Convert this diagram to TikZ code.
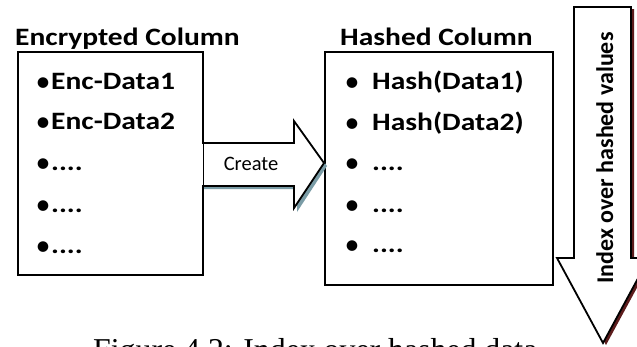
\documentclass[tikz,border=0pt]{standalone}
\usepackage{fontspec}
\setmainfont{Carlito}
\newfontfamily\widefnt[FakeStretch=1.18]{Carlito}
\newfontfamily\capfont{Liberation Serif}
\newcommand\titlefnt{\widefnt\fontsize{25}{30}\selectfont\bfseries}
\newcommand\itemfnt{\widefnt\fontsize{25}{30}\selectfont\bfseries}
\newcommand\createfnt{\fontsize{20.5}{24}\selectfont}
\newcommand\idxfnt{\fontsize{24}{28}\selectfont\bfseries}
\newcommand\bul{\makebox[16pt][c]{\raisebox{-2pt}{\rmfamily\mdseries\fontsize{30}{30}\selectfont •}}}
\begin{document}
\begin{tikzpicture}[x=1pt,y=-1pt,
  colbox/.style={draw=black,line width=1.5pt,fill=white,rectangle,inner sep=0pt,anchor=north west},
  coltitle/.style={anchor=base west,inner sep=0pt,font=\titlefnt},
  item/.style={anchor=base west,inner sep=0pt,font=\itemfnt},
  arrowline/.style={draw=black,line width=1.8pt,fill=white,line join=miter},
  shadowA/.style={fill={rgb,255:red,122;green,156;blue,166}},
  shadowB/.style={fill={rgb,255:red,92;green,28;blue,28}}]
\useasboundingbox (0,0) rectangle (637,346);
\clip (0,0) rectangle (637,346);
\fill[white] (0,0) rectangle (637,346);

% boxes
\node[colbox,minimum width=185pt,minimum height=223pt] (enc) at (17,51) {};
\node[colbox,minimum width=228pt,minimum height=233pt] (hash) at (324,51) {};

% titles
\node[coltitle] (enct) at (15,45) {Encrypted Column};
\node[coltitle] (hasht) at (340,45) {Hashed Column};

% left items
\node[item] (e1) at (35,89) {\bul Enc-Data1};
\node[item] (e2) at (35,129) {\bul Enc-Data2};
\node[item] (e3) at (35,170) {\bul ....};
\node[item] (e4) at (35,212) {\bul ....};
\node[item] (e5) at (35,253) {\bul ....};

% right items
\node[item] (h1) at (344,89) {\bul\hspace{12pt}Hash(Data1)};
\node[item] (h2) at (344,130) {\bul\hspace{12pt}Hash(Data2)};
\node[item] (h3) at (344,170) {\bul\hspace{12pt}....};
\node[item] (h4) at (344,212) {\bul\hspace{12pt}....};
\node[item] (h5) at (344,252) {\bul\hspace{12pt}....};

% create arrow
\fill[shadowA] (203,146) -- (297,146) -- (297,124) -- (327,166) -- (297,212) -- (297,189) -- (203,189) -- cycle;
\path[arrowline] (202,143) -- (294,143) -- (294,121) -- (324,163) -- (294,208) -- (294,186) -- (202,186);
\draw[line width=1.5pt] (enc.north east) -- (enc.south east);
\node[font=\createfnt,inner sep=0pt] (create) at (251,164) {Create};

% index arrow
\fill[shadowB] (577,9) -- (634,9) -- (634,260) -- (652,260) -- (606,345) -- (560,260) -- (577,260) -- cycle;
\path[arrowline] (574,7) -- (631,7) -- (631,258) -- (649,258) -- (603,343) -- (557,258) -- (574,258) -- cycle;
\node[font=\idxfnt,inner sep=0pt,rotate=90,anchor=base] (idx) at (613,158) {Index over hashed values};

% caption (cut off)
\node[anchor=base west,inner sep=0pt,font=\capfont\fontsize{31.8}{36}\selectfont] (cap) at (93,360) {Figure 4.2: Index over hashed data};
\end{tikzpicture}
\end{document}
